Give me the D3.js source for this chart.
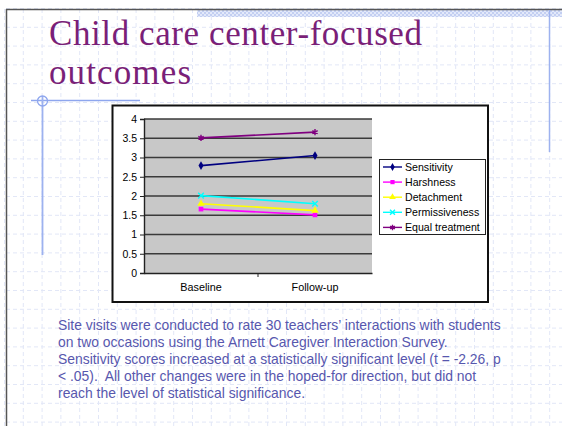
<!DOCTYPE html>
<html>
<head>
<meta charset="utf-8">
<script src="https://cdn.jsdelivr.net/npm/d3@7"></script>
<style>
  body { margin: 0; background: #fff; }
  svg { display: block; }
  text { white-space: pre; }
</style>
</head>
<body>
<div id="slide"></div>
<script>
// data
const periods = ["Baseline", "Follow-up"];
const seriesNames = ["Sensitivity", "Harshness", "Detachment", "Permissiveness", "Equal treatment"];
const sensitivity = [2.79, 3.05];
const harshness = [1.66, 1.51];
const detachment = [1.80, 1.62];
const permissiveness = [2.01, 1.80];
const equalTreatment = [3.51, 3.66];
const yTicks = [0, 0.5, 1, 1.5, 2, 2.5, 3, 3.5, 4];
const titleLines = ["Child care center-focused", "outcomes"];
const bodyLines = [
  "Site visits were conducted to rate 30 teachers\u2019 interactions with students",
  "on two occasions using the Arnett Caregiver Interaction Survey.",
  "Sensitivity scores increased at a statistically significant level (t = -2.26, p",
  "< .05).  All other changes were in the hoped-for direction, but did not",
  "reach the level of statistical significance."
];

const series = [
  { name: seriesNames[0], values: sensitivity, color: "#000080", symbol: d3.symbolDiamond, size: 22, stroke: false },
  { name: seriesNames[1], values: harshness, color: "#ff00ff", symbol: d3.symbolSquare, size: 22, stroke: false },
  { name: seriesNames[2], values: detachment, color: "#ffff00", symbol: d3.symbolTriangle, size: 24, stroke: false },
  { name: seriesNames[3], values: permissiveness, color: "#00ffff", symbol: d3.symbolX, size: 22, stroke: true },
  { name: seriesNames[4], values: equalTreatment, color: "#800080", symbol: d3.symbolAsterisk, size: 26, stroke: true }
];

const W = 562, H = 426;
const svg = d3.select("#slide").append("svg")
  .attr("width", W)
  .attr("height", H);

// slide background grid (dashed light blue)
const gridStep = 18.8;
const bg = svg.append("g");
for (let x = 4.5; x < W; x += gridStep) {
  bg.append("line")
    .attr("x1", x).attr("x2", x).attr("y1", 9).attr("y2", H)
    .attr("stroke", "#e2e7f7").attr("stroke-width", 1)
    .attr("stroke-dasharray", "4,3");
}
for (let y = 8.5; y < H; y += gridStep) {
  bg.append("line")
    .attr("x1", 6).attr("x2", W).attr("y1", y).attr("y2", y)
    .attr("stroke", "#e2e7f7").attr("stroke-width", 1)
    .attr("stroke-dasharray", "4,3");
}

// checkered band at top
const defs = svg.append("defs");
const pat = defs.append("pattern")
  .attr("id", "check")
  .attr("width", 4).attr("height", 4)
  .attr("patternUnits", "userSpaceOnUse");
pat.append("rect").attr("width", 4).attr("height", 4).attr("fill", "#e3e9fa");
pat.append("rect").attr("width", 2).attr("height", 2).attr("fill", "#c3cff2");
pat.append("rect").attr("x", 2).attr("y", 2).attr("width", 2).attr("height", 2).attr("fill", "#c3cff2");
svg.append("rect")
  .attr("x", 197).attr("y", 9)
  .attr("width", W - 197).attr("height", 8)
  .attr("fill", "url(#check)");

// slide frame lines
svg.append("line").attr("x1", 6).attr("x2", W).attr("y1", 9.5).attr("y2", 9.5)
  .attr("stroke", "#555").attr("stroke-width", 1.5);
svg.append("line").attr("x1", 6.5).attr("x2", 6.5).attr("y1", 9).attr("y2", H)
  .attr("stroke", "#555").attr("stroke-width", 1.5);

// blue decorative lines
svg.append("line").attr("x1", 549.5).attr("x2", 549.5).attr("y1", 10).attr("y2", 152)
  .attr("stroke", "#9db2ef").attr("stroke-width", 1.5);
svg.append("line").attr("x1", 31).attr("x2", 140).attr("y1", 100.5).attr("y2", 100.5)
  .attr("stroke", "#8ea6ee").attr("stroke-width", 1.5);
svg.append("line").attr("x1", 42.5).attr("x2", 42.5).attr("y1", 96).attr("y2", 255)
  .attr("stroke", "#9db2ef").attr("stroke-width", 1.8);
svg.append("circle").attr("cx", 42.5).attr("cy", 101).attr("r", 5)
  .attr("fill", "none").attr("stroke", "#8ea6ee").attr("stroke-width", 1.3);

// title
svg.append("g").selectAll("text")
  .data(titleLines)
  .enter()
  .append("text")
  .attr("x", 49)
  .attr("y", (d, i) => 44.5 + i * 39)
  .attr("font-family", "'Liberation Serif', 'DejaVu Serif', serif")
  .attr("font-size", "35px")
  .attr("fill", "#7a1f78")
  .attr("textLength", (d, i) => i === 0 ? 373 : 142)
  .attr("lengthAdjust", "spacing")
  .text(d => d);

// chart box
svg.append("rect")
  .attr("x", 112.5).attr("y", 105.5)
  .attr("width", 375.5).attr("height", 196.5)
  .attr("fill", "#fff")
  .attr("stroke", "#111").attr("stroke-width", 2);

// plot area
const plot = { left: 144, right: 372, top: 119, bottom: 273 };
const x = d3.scaleBand().domain(periods).range([plot.left, plot.right]);
const y = d3.scaleLinear().domain([0, 4]).range([plot.bottom, plot.top]);

svg.append("rect")
  .attr("x", plot.left).attr("y", plot.top)
  .attr("width", plot.right - plot.left).attr("height", plot.bottom - plot.top)
  .attr("fill", "#c8c8c8");

// gridlines
svg.append("g").selectAll("line")
  .data(yTicks.filter(d => d > 0))
  .enter()
  .append("line")
  .attr("x1", plot.left).attr("x2", plot.right)
  .attr("y1", d => y(d)).attr("y2", d => y(d))
  .attr("stroke", "#3a3a3a").attr("stroke-width", 1.4);

// y axis
const yAxis = svg.append("g")
  .attr("transform", `translate(${plot.left},0)`)
  .call(d3.axisLeft(y).tickValues(yTicks).tickSize(4).tickPadding(3).tickFormat(d3.format("")));
yAxis.select(".domain").attr("stroke", "#222").attr("stroke-width", 1.4);
yAxis.selectAll(".tick line").attr("stroke", "#222");
yAxis.selectAll(".tick text")
  .attr("font-family", "Arial, 'Liberation Sans', sans-serif")
  .attr("font-size", "10.5px")
  .attr("fill", "#000");

// x axis
const xAxis = svg.append("g")
  .attr("transform", `translate(0,${plot.bottom})`)
  .call(d3.axisBottom(x).tickSize(0).tickPadding(10));
xAxis.select(".domain").attr("stroke", "#222").attr("stroke-width", 1.4);
xAxis.selectAll(".tick text")
  .attr("font-family", "Arial, 'Liberation Sans', sans-serif")
  .attr("font-size", "10.8px")
  .attr("fill", "#000");
// tick mark between categories
svg.append("g").selectAll("line")
  .data([periods[1]])
  .enter()
  .append("line")
  .attr("x1", d => x(d)).attr("x2", d => x(d))
  .attr("y1", plot.bottom).attr("y2", plot.bottom + 4)
  .attr("stroke", "#222");

// series lines and markers
const line = d3.line()
  .x((d, i) => x(periods[i]) + x.bandwidth() / 2)
  .y(d => y(d));

function drawMarker(g, s) {
  const p = g.append("path")
    .attr("d", d3.symbol().type(s.symbol).size(s.size));
  if (s.stroke) {
    p.attr("fill", "none").attr("stroke", s.color).attr("stroke-width", 1.4);
  } else {
    p.attr("fill", s.color);
  }
}

series.forEach(s => {
  svg.append("path")
    .datum(s.values)
    .attr("d", line)
    .attr("fill", "none")
    .attr("stroke", s.color)
    .attr("stroke-width", 1.6);
  s.values.forEach((v, i) => {
    const g = svg.append("g")
      .attr("transform", `translate(${x(periods[i]) + x.bandwidth() / 2},${y(v)})`);
    drawMarker(g, s);
  });
});

// legend
const legend = svg.append("g");
legend.append("rect")
  .attr("x", 379.5).attr("y", 159.5)
  .attr("width", 106).attr("height", 75)
  .attr("fill", "#fff")
  .attr("stroke", "#222").attr("stroke-width", 1);
series.forEach((s, i) => {
  const ly = 167 + i * 15.1;
  legend.append("line")
    .attr("x1", 383).attr("x2", 402)
    .attr("y1", ly).attr("y2", ly)
    .attr("stroke", s.color).attr("stroke-width", 1.4);
  const g = legend.append("g").attr("transform", `translate(392.5,${ly})`);
  drawMarker(g, { ...s, size: s.size * 0.8 });
  legend.append("text")
    .attr("x", 405)
    .attr("y", ly)
    .attr("dy", "0.35em")
    .attr("font-family", "Arial, 'Liberation Sans', sans-serif")
    .attr("font-size", "10.6px")
    .attr("fill", "#000")
    .text(s.name);
});

// body text
svg.append("g").selectAll("text")
  .data(bodyLines)
  .enter()
  .append("text")
  .attr("x", 58)
  .attr("y", (d, i) => 330 + i * 17)
  .attr("font-family", "Arial, 'Liberation Sans', sans-serif")
  .attr("font-size", "13.9px")
  .attr("fill", "#5757ae")
  .text(d => d);
</script>
</body>
</html>
